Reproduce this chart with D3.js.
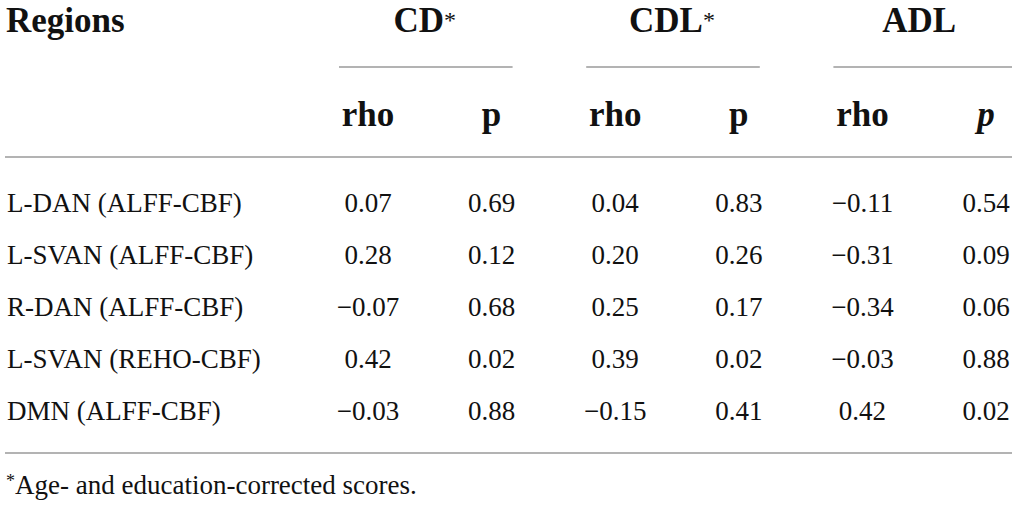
<!DOCTYPE html>
<html>
<head>
<meta charset="utf-8">
<script src="https://cdn.jsdelivr.net/npm/d3@7"></script>
<style>
  html, body { margin: 0; padding: 0; background: #fff; }
  svg { display: block; }
</style>
</head>
<body>
<div id="table"></div>
<script>
// Correlation table: regions vs CD / CDL / ADL

const regions = [
  'L-DAN (ALFF-CBF)',
  'L-SVAN (ALFF-CBF)',
  'R-DAN (ALFF-CBF)',
  'L-SVAN (REHO-CBF)',
  'DMN (ALFF-CBF)'
];
const groups = [
  { name: 'CD', star: true },
  { name: 'CDL', star: true },
  { name: 'ADL', star: false }
];
const subHeaders = ['rho', 'p', 'rho', 'p', 'rho', 'p'];
const cdRho  = ['0.07', '0.28', '\u22120.07', '0.42', '\u22120.03'];
const cdP    = ['0.69', '0.12', '0.68', '0.02', '0.88'];
const cdlRho = ['0.04', '0.20', '0.25', '0.39', '\u22120.15'];
const cdlP   = ['0.83', '0.26', '0.17', '0.02', '0.41'];
const adlRho = ['\u22120.11', '\u22120.31', '\u22120.34', '\u22120.03', '0.42'];
const adlP   = ['0.54', '0.09', '0.06', '0.88', '0.02'];
const footnote = 'Age- and education-corrected scores.';

const columns = [cdRho, cdP, cdlRho, cdlP, adlRho, adlP];

const w = 1017, h = 506;
const serif = '"Liberation Serif", "Times New Roman", Times, Tinos, "DejaVu Serif", "Noto Serif", serif';
const svg = d3.select('#table').append('svg')
  .attr('width', w).attr('height', h)
  .style('font-family', serif);

// column centres and row baselines
const x = d3.scalePoint().domain(d3.range(columns.length)).range([368, 986]);
const y = d3.scalePoint().domain(d3.range(regions.length)).range([212, 420]);

const ruleColor = '#9a9a9a';
const ink = '#111';
const bodySize = 27, headSize = 35;

// group headers
svg.append('g').selectAll('text')
  .data(groups).enter().append('text')
  .attr('x', (d, i) => (x(i * 2) + x(i * 2 + 1)) / 2 - 5)
  .attr('y', 32)
  .attr('text-anchor', 'middle')
  .attr('font-family', serif).attr('fill', ink)
  .attr('font-size', headSize).attr('font-weight', 'bold')
  .each(function(d) {
    const t = d3.select(this);
    t.append('tspan').text(d.name);
    if (d.star) t.append('tspan').attr('font-size', 24).attr('font-weight', 'normal').attr('dy', -4).text('*');
  });

svg.append('text')
  .attr('x', 6).attr('y', 32)
  .attr('font-family', serif).attr('fill', ink)
  .attr('font-size', headSize).attr('font-weight', 'bold')
  .text('Regions');

// rules under group headers
svg.append('g').selectAll('line')
  .data(groups).enter().append('line')
  .attr('x1', (d, i) => x(i * 2) - 29)
  .attr('x2', (d, i) => i === 2 ? 1012 : x(i * 2 + 1) + 21)
  .attr('y1', 67).attr('y2', 67)
  .attr('stroke', ruleColor).attr('stroke-width', 1.5);

// rho / p sub headers
svg.append('g').selectAll('text')
  .data(subHeaders).enter().append('text')
  .attr('x', (d, i) => x(i))
  .attr('y', 126)
  .attr('text-anchor', 'middle')
  .attr('font-family', serif).attr('fill', ink)
  .attr('font-size', headSize).attr('font-weight', 'bold')
  .attr('font-style', (d, i) => i === 5 ? 'italic' : 'normal')
  .text(d => d);

// horizontal rules
svg.append('line')
  .attr('x1', 5).attr('x2', 1012).attr('y1', 157).attr('y2', 157)
  .attr('stroke', ruleColor).attr('stroke-width', 1.5);
svg.append('line')
  .attr('x1', 5).attr('x2', 1012).attr('y1', 453).attr('y2', 453)
  .attr('stroke', ruleColor).attr('stroke-width', 1.5);

// region labels
svg.append('g').selectAll('text')
  .data(regions).enter().append('text')
  .attr('x', 7).attr('y', (d, i) => y(i))
  .attr('font-family', serif).attr('fill', ink)
  .attr('font-size', bodySize)
  .text(d => d);

// values
columns.forEach((col, ci) => {
  svg.append('g').selectAll('text')
    .data(col).enter().append('text')
    .attr('x', x(ci)).attr('y', (d, i) => y(i))
    .attr('text-anchor', 'middle')
    .attr('font-family', serif).attr('fill', ink)
    .attr('font-size', bodySize)
    .text(d => d);
});

// footnote
const fn = svg.append('text').attr('x', 6).attr('y', 494)
  .attr('font-family', serif).attr('fill', ink)
  .attr('font-size', bodySize);
fn.append('tspan').attr('font-size', 18).attr('dy', -7).text('*');
fn.append('tspan').attr('dy', 7).text(footnote);
</script>
</body>
</html>
